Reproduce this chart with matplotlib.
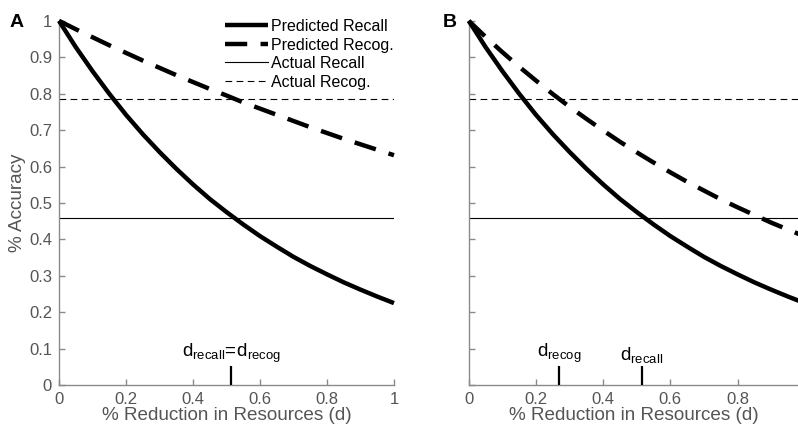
import numpy as np
import matplotlib
matplotlib.use('Agg')
import matplotlib.pyplot as plt

plt.rcParams['font.family'] = ['Liberation Sans', 'DejaVu Sans']
plt.rcParams['mathtext.fontset'] = 'custom'
plt.rcParams['mathtext.rm'] = 'Liberation Sans'
plt.rcParams['mathtext.it'] = 'Liberation Sans'

# valores
d = [0.0, 0.05, 0.1, 0.15, 0.2, 0.25, 0.3, 0.35, 0.4, 0.45, 0.5,
     0.55, 0.6, 0.65, 0.7, 0.75, 0.8, 0.85, 0.9, 0.95, 1.0]
pred_recall = [1.0, 0.928, 0.862, 0.800, 0.742, 0.689, 0.640, 0.594, 0.551, 0.511, 0.475,
               0.441, 0.409, 0.380, 0.352, 0.327, 0.304, 0.282, 0.262, 0.243, 0.225]
pred_recog_A = [1.0, 0.977, 0.955, 0.933, 0.912, 0.891, 0.871, 0.851, 0.832, 0.813, 0.795,
                0.776, 0.759, 0.742, 0.725, 0.708, 0.692, 0.676, 0.661, 0.646, 0.631]
pred_recog_B = [1.0, 0.956, 0.914, 0.874, 0.836, 0.799, 0.764, 0.731, 0.699, 0.668, 0.639,
                0.611, 0.584, 0.558, 0.534, 0.510, 0.488, 0.467, 0.446, 0.427, 0.408]
actual_recall = 0.46
actual_recog = 0.785

d_recall = 0.515
d_recog_B = 0.268

yticks = [0, 0.1, 0.2, 0.3, 0.4, 0.5, 0.6, 0.7, 0.8, 0.9, 1]
ytick_labels = ['0', '0.1', '0.2', '0.3', '0.4', '0.5', '0.6', '0.7', '0.8', '0.9', '1']
xticks_A = [0, 0.2, 0.4, 0.6, 0.8, 1]
xtick_labels_A = ['0', '0.2', '0.4', '0.6', '0.8', '1']
xticks_B = [0, 0.2, 0.4, 0.6, 0.8]
xtick_labels_B = ['0', '0.2', '0.4', '0.6', '0.8']

gris = '#555555'
eje = '#8a8a8a'

fig = plt.figure(figsize=(7.98, 4.25), dpi=100)
axA = fig.add_axes([0.0739, 0.094, 0.4198, 0.857])
axB = fig.add_axes([0.5874, 0.094, 0.4126, 0.857])


def estilo(ax, xmax, xt, xtl):
    for s in ['top', 'right']:
        ax.spines[s].set_visible(False)
    for s in ['left', 'bottom']:
        ax.spines[s].set_color(eje)
        ax.spines[s].set_linewidth(1.0)
    ax.set_xlim(0, xmax)
    ax.set_ylim(0, 1)
    ax.set_xticks(xt)
    ax.set_xticklabels(xtl)
    ax.set_yticks(yticks)
    ax.tick_params(direction='in', length=4, width=1.0, color=eje,
                   labelsize=12, labelcolor=gris, pad=5)
    ax.set_xlabel('% Reduction in Resources (d)', fontsize=13.6, color=gris, labelpad=0)


def dibujar(ax, recog):
    ax.axhline(actual_recall, color='black', lw=0.8, label='Actual Recall', zorder=2)
    ax.axhline(actual_recog, color='black', lw=0.8, dashes=(6, 4), label='Actual Recog.', zorder=2)
    ax.plot(d, pred_recall, color='black', lw=3.2, solid_capstyle='butt',
            label='Predicted Recall', zorder=3, clip_on=False)
    ax.plot(d, recog, color='black', lw=3.2, dashes=(5, 3), dash_capstyle='butt',
            label='Predicted Recog.', zorder=3, clip_on=False)


def marca(ax, x, texto):
    ax.plot([x, x], [0, 0.052], color='black', lw=1.6, solid_capstyle='butt', zorder=4)
    ax.text(x, 0.054, texto, ha='center', va='bottom', fontsize=13.5, color='black')


# Panel A
estilo(axA, 1.0, xticks_A, xtick_labels_A)
dibujar(axA, pred_recog_A)
axA.set_yticklabels(ytick_labels)
axA.set_ylabel('% Accuracy', fontsize=13.6, color=gris, labelpad=2)
marca(axA, d_recall, r'$\mathrm{d}_{\mathrm{recall}}\!=\!\mathrm{d}_{\mathrm{recog}}$')
h, l = axA.get_legend_handles_labels()
orden = [2, 3, 0, 1]
axA.legend([h[i] for i in orden], [l[i] for i in orden], loc='upper right',
           bbox_to_anchor=(1.0, 1.005), frameon=False, fontsize=11.5,
           handlelength=2.7, handletextpad=0.2, labelspacing=0.22, borderpad=0,
           borderaxespad=0)
fig.text(0.012, 0.948, 'A', fontsize=14, fontweight='bold', va='center')

# Panel B
estilo(axB, 0.98, xticks_B, xtick_labels_B)
dibujar(axB, pred_recog_B)
axB.set_yticklabels([])
marca(axB, d_recog_B, r'$\mathrm{d}_{\mathrm{recog}}$')
marca(axB, d_recall, r'$\mathrm{d}_{\mathrm{recall}}$')
fig.text(0.555, 0.948, 'B', fontsize=14, fontweight='bold', va='center')

fig.savefig('out.png', dpi=100)
